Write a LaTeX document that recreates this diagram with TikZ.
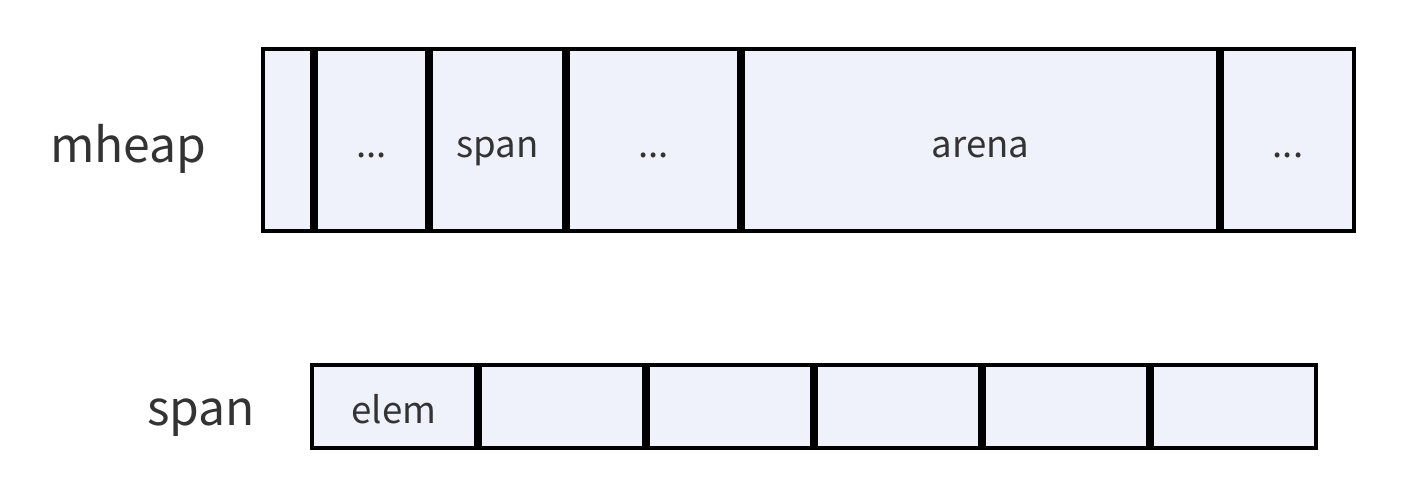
\documentclass[tikz,border=0pt]{standalone}
\usepackage{fontspec}
\setmainfont{Noto Sans CJK SC}
\usetikzlibrary{positioning}
\definecolor{cellfill}{HTML}{EFF2FA}
\definecolor{txtgray}{HTML}{333333}

\begin{document}
\begin{tikzpicture}[x=0.5pt, y=-0.5pt,
  cell/.style={draw=black, line width=1.8pt, fill=cellfill, text=txtgray, inner sep=0pt, text height=17pt, text depth=0pt, font=\fontsize{18.3}{21}\selectfont},
  heapcell/.style={cell, minimum height=91.2pt, minimum width=#1},
  elemcell/.style={cell, minimum height=41.7pt, minimum width=82.2pt},
  rowlabel/.style={text=txtgray, font=\fontsize{24}{28}\selectfont, inner sep=0pt, anchor=base west}]
\useasboundingbox (0,0) rectangle (1406,500);
% mheap row
\node[rowlabel] (mheaplbl) at (50,162) {mheap};
\node[heapcell=24.7pt, anchor=north west] (h1) at (261,47) {};
\node[heapcell=55.7pt, right=0pt of h1] (h2) {...};
\node[heapcell=66.7pt, right=0pt of h2] (h3) {span};
\node[heapcell=85.7pt, right=0pt of h3] (h4) {...};
\node[heapcell=237.7pt, right=0pt of h4] (h5) {arena};
\node[heapcell=66.2pt, right=0pt of h5] (h6) {...};
% span row
\node[rowlabel] (spanlbl) at (147,425) {span};
\node[elemcell, anchor=north west] (e1) at (310,363) {elem};
\node[elemcell, right=0pt of e1] (e2) {};
\node[elemcell, right=0pt of e2] (e3) {};
\node[elemcell, right=0pt of e3] (e4) {};
\node[elemcell, right=0pt of e4] (e5) {};
\node[elemcell, right=0pt of e5] (e6) {};
\end{tikzpicture}
\end{document}
